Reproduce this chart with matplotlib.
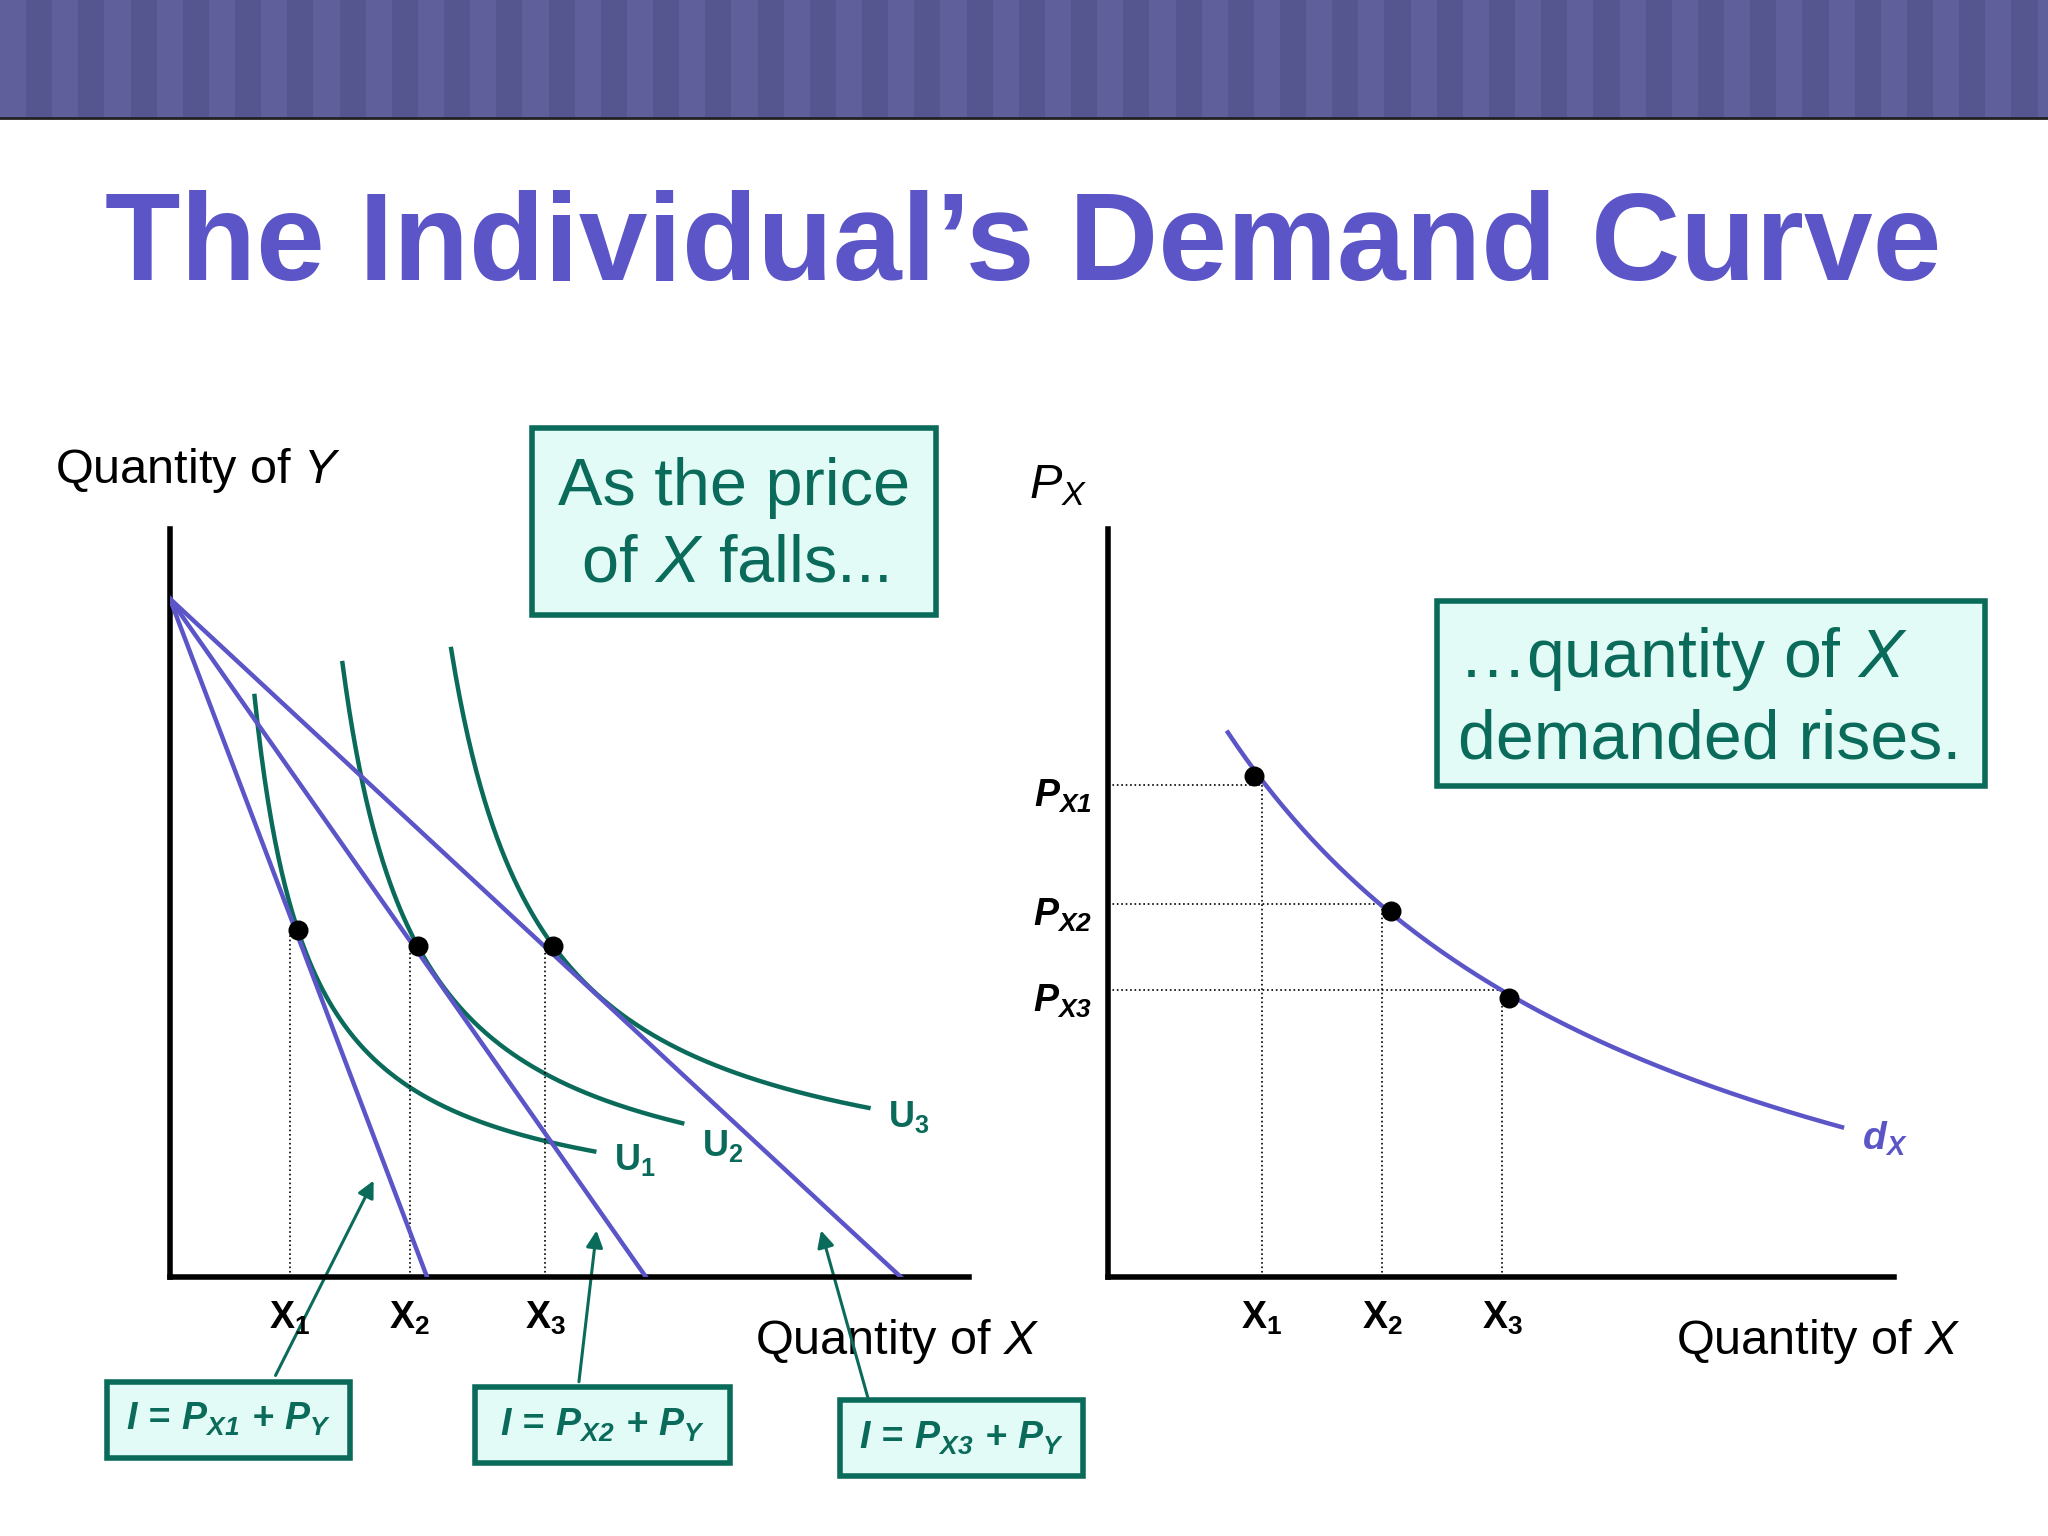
import matplotlib
matplotlib.use("Agg")
import matplotlib.pyplot as plt
import numpy as np
from matplotlib.patches import Rectangle, FancyArrowPatch

plt.rcParams['font.family'] = ['Liberation Sans', 'DejaVu Sans']
plt.rcParams['mathtext.fontset'] = 'custom'
plt.rcParams['mathtext.rm'] = 'Liberation Sans'
plt.rcParams['mathtext.it'] = 'Liberation Sans:italic'
plt.rcParams['mathtext.bf'] = 'Liberation Sans:bold'
plt.rcParams['mathtext.bfit'] = 'Liberation Sans:bold:italic'

# ---- data (left panel) ----
budget_y_intercept = 9.07
budget_x_intercepts = [3.22, 5.96, 9.15]
tangency_x = [1.6, 3.1, 4.8]
tangency_y = [4.64, 4.43, 4.43]
# indifference curves y = y0 + k/(x - x0), drawn between x_start and x_end
ic_x0 = [0.38, 1.24, 2.4]
ic_y0 = [0.71, 0.73, 0.95]
ic_k = [4.8, 6.88, 8.34]
ic_x_start = [1.06, 2.16, 3.52]
ic_x_end = [5.31, 6.41, 8.74]
ic_labels = ['U', 'U', 'U']
x_tick_labels = ['1', '2', '3']

# ---- data (right panel) ----
demand_x0, demand_y0, demand_k = -4.3, -1.93, 53.7
demand_x_range = [1.53, 9.34]
demand_pts_x = [1.86, 3.60, 5.10]
demand_pts_y = [6.70, 4.89, 3.73]
price_levels = [6.58, 4.99, 3.84]
qty_levels = [1.96, 3.49, 5.02]

PURPLE = '#5b55c8'
TEAL = '#0b6b5a'
BOXFILL = '#e2fbf7'

W, H = 1568, 1176
fig = plt.figure(figsize=(20.48, 15.36), dpi=100)
bg = fig.add_axes([0, 0, 1, 1])
bg.set_xlim(0, W); bg.set_ylim(H, 0); bg.axis('off')

# banner
bg.add_patch(Rectangle((0, 0), W, 90, facecolor='#55558f', edgecolor='none'))
for i in range(0, W, 40):
    bg.add_patch(Rectangle((i, 0), 20, 90, facecolor='#6a6aa8', edgecolor='none', alpha=0.5))
bg.plot([0, W], [90, 90], color='#222222', lw=2)

bg.text(783, 190, 'The Individual’s Demand Curve', ha='center', va='center',
        fontsize=89, fontweight='bold', color=PURPLE)

def box(x, y, w, h, lw=4):
    bg.add_patch(Rectangle((x, y), w, h, facecolor=BOXFILL, edgecolor=TEAL, lw=lw, zorder=5))

box(407, 328, 310, 143)
bg.text(562, 403, 'As the price\nof $X$ falls...', ha='center', va='center', fontsize=48,
        color=TEAL, zorder=6, linespacing=1.3)
box(1100, 460, 420, 142)
bg.text(1116, 535, '…quantity of $X$\ndemanded rises.', ha='left', va='center', fontsize=49,
        color=TEAL, zorder=6, linespacing=1.3)

bg.text(42, 360, 'Quantity of $Y$', fontsize=35, va='center')
bg.text(578, 1027, 'Quantity of $X$', fontsize=35, va='center')
bg.text(1283, 1027, 'Quantity of $X$', fontsize=35, va='center')
bg.text(788, 372, '$P_X$', fontsize=35, va='center')

# budget labels with arrows
lab = [(82, 1058, 186, 58, 210, 1055, 287, 902, '1'),
       (364, 1062, 195, 58, 443, 1060, 457, 940, '2'),
       (643, 1072, 186, 58, 665, 1072, 628, 940, '3')]
for bx, by, bw, bh, ax0, ay0, ax1, ay1, n in lab:
    box(bx, by, bw, bh, lw=4)
    bg.text(bx + bw / 2, by + bh / 2,
            r'$\mathbfit{I\,=\,P}_{\mathbfit{X%s}}\mathbfit{\,+\,P}_{\mathbfit{Y}}$' % n,
            ha='center', va='center', fontsize=27, color=TEAL, zorder=6)
    bg.add_patch(FancyArrowPatch((ax0, ay0), (ax1, ay1), arrowstyle='-|>', mutation_scale=25,
                                 color=TEAL, lw=2.2, zorder=4))

def setup(ax):
    ax.set_xlim(0, 10); ax.set_ylim(0, 10)
    for s in ['top', 'right']:
        ax.spines[s].set_visible(False)
    for s in ['left', 'bottom']:
        ax.spines[s].set_linewidth(4)
    ax.set_xticks([]); ax.set_yticks([])
    ax.patch.set_alpha(0)

label_dy = [-0.12, -0.3, -0.12]
axL = fig.add_axes([130 / W, (H - 978) / H, 612 / W, 573 / H])
setup(axL)
for xi in budget_x_intercepts:
    axL.plot([0, xi], [budget_y_intercept, 0], color=PURPLE, lw=3.2, zorder=3)
for i in range(3):
    xs = np.linspace(ic_x_start[i], ic_x_end[i], 200)
    axL.plot(xs, ic_y0[i] + ic_k[i] / (xs - ic_x0[i]), color=TEAL, lw=3.2, zorder=2)
    xe = ic_x_end[i]
    ye = ic_y0[i] + ic_k[i] / (xe - ic_x0[i])
    axL.text(xe + 0.25, ye + label_dy[i], r'$\mathbf{%s}_{\mathbf{%d}}$' % (ic_labels[i], i + 1),
             fontsize=26, color=TEAL, ha='left', va='center')
    axL.plot([tangency_x[i] - 0.1] * 2, [0, tangency_y[i]], color='black', lw=1.2, ls=':')
    axL.text(tangency_x[i] - 0.1, -0.55, r'$\mathbf{X}_{\mathbf{%s}}$' % x_tick_labels[i],
             fontsize=27, ha='center', va='center', clip_on=False)
axL.scatter(tangency_x, tangency_y, s=180, color='black', zorder=5)

axR = fig.add_axes([848 / W, (H - 978) / H, 602 / W, 573 / H])
setup(axR)
xs = np.linspace(demand_x_range[0], demand_x_range[1], 200)
axR.plot(xs, demand_y0 + demand_k / (xs - demand_x0), color=PURPLE, lw=3.2, zorder=3)
axR.scatter(demand_pts_x, demand_pts_y, s=180, color='black', zorder=5)
for i in range(3):
    axR.plot([0, qty_levels[i]], [price_levels[i]] * 2, color='black', lw=1.2, ls=':')
    axR.plot([qty_levels[i]] * 2, [0, price_levels[i]], color='black', lw=1.2, ls=':')
    axR.text(-0.2, price_levels[i] - 0.15, r'$\mathbfit{P}_{\mathbfit{X%s}}$' % x_tick_labels[i],
             fontsize=27, ha='right', va='center', clip_on=False)
    axR.text(qty_levels[i], -0.55, r'$\mathbf{X}_{\mathbf{%s}}$' % x_tick_labels[i],
             fontsize=27, ha='center', va='center', clip_on=False)
axR.text(9.6, 1.85, r'$\mathbfit{d}_{\mathbfit{X}}$', fontsize=28, color=PURPLE, ha='left', va='center')

fig.savefig('out.png', dpi=100)
